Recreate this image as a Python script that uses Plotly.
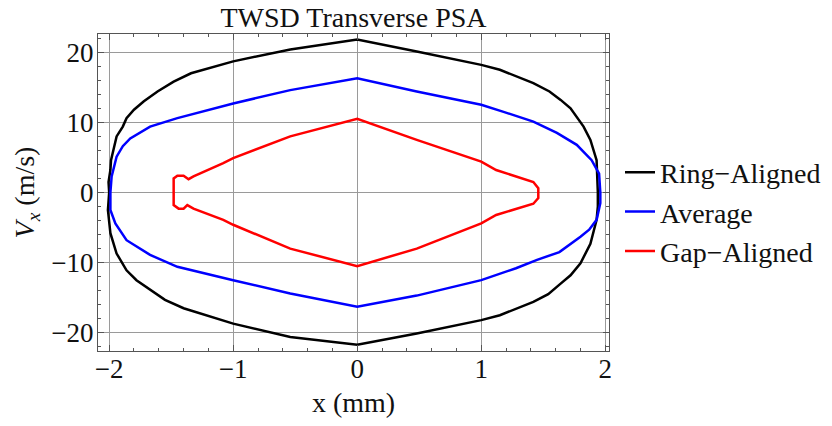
import plotly.graph_objects as go

# Ring-Aligned (black) closed contour
ring_x = [-2.00, -2.005, -1.99, -1.985, -1.96, -1.94, -1.89, -1.86, -1.80, -1.72, -1.61, -1.48, -1.34, -1.00, -0.54, 0.00,
          0.48, 1.00, 1.15, 1.42, 1.55, 1.64, 1.72, 1.77, 1.825, 1.88, 1.93, 1.94,
          1.94, 1.93, 1.88, 1.80, 1.72, 1.64, 1.54, 1.42, 1.15, 1.00, 0.48, 0.00,
          -0.54, -1.00, -1.40, -1.55, -1.67, -1.78, -1.86, -1.94, -1.99, -2.01, -2.00]
ring_y = [0.0, 1.5, 3.2, 4.6, 6.5, 8.0, 9.4, 10.6, 11.8, 13.0, 14.4, 15.8, 17.0, 18.7, 20.4, 21.8,
          20.1, 18.2, 17.5, 15.6, 14.4, 13.2, 12.0, 10.8, 9.4, 7.5, 4.6, 0.0,
          -2.0, -3.9, -7.3, -10.1, -11.8, -13.0, -14.5, -15.6, -17.5, -18.2, -20.1, -21.7,
          -20.6, -18.7, -16.5, -15.3, -13.9, -12.5, -11.1, -8.7, -5.8, -2.5, 0.0]

# Average (blue) closed contour
avg_x = [-1.99, -1.98, -1.94, -1.89, -1.83, -1.67, -1.45, -1.00, -0.54, 0.00,
         0.48, 1.00, 1.18, 1.42, 1.61, 1.77, 1.89, 1.95, 1.96,
         1.96, 1.93, 1.87, 1.80, 1.63, 1.45, 1.28, 1.00, 0.48, 0.00,
         -0.54, -1.00, -1.45, -1.67, -1.86, -1.95, -1.99, -1.99]
avg_y = [0.0, 2.3, 5.1, 6.6, 7.7, 9.4, 10.6, 12.7, 14.6, 16.3,
         14.4, 12.5, 11.5, 10.1, 8.5, 6.8, 4.6, 2.7, 0.0,
         -1.5, -3.9, -5.3, -6.3, -8.5, -9.6, -10.8, -12.5, -14.7, -16.3,
         -14.4, -12.5, -10.6, -8.9, -6.8, -4.4, -2.5, 0.0]

# Gap-Aligned (red) closed contour
gap_x = [-1.48, -1.48, -1.45, -1.40, -1.36, -1.32, -1.08, -1.00, -0.54, 0.00,
         0.48, 1.00, 1.12, 1.42, 1.46, 1.46,
         1.46, 1.42, 1.12, 1.00, 0.48, 0.00,
         -0.54, -1.00, -1.08, -1.32, -1.37, -1.40, -1.44, -1.48, -1.48]
gap_y = [0.0, 2.0, 2.4, 2.4, 1.9, 2.3, 4.2, 4.9, 8.0, 10.5,
         7.5, 4.4, 3.2, 1.5, 0.6, 0.0,
         -0.8, -1.6, -3.2, -4.4, -8.0, -10.5,
         -8.0, -4.6, -3.9, -2.3, -1.8, -2.3, -2.3, -1.8, 0.0]

series = [
    ("Ring\u2212Aligned", ring_x, ring_y, "#000000"),
    ("Average", avg_x, avg_y, "#0000FF"),
    ("Gap\u2212Aligned", gap_x, gap_y, "#FF0000"),
]

x_ticks = [-2, -1, 0, 1, 2]
y_ticks = [-20, -10, 0, 10, 20]

fig = go.Figure()
for i, (name, xs, ys, col) in enumerate(series):
    fig.add_trace(go.Scatter(x=xs, y=ys, mode="lines", name=name,
                             line=dict(color=col, width=2.5),
                             legendgroup=f"g{i}"))

font_family = "Liberation Serif"
txt = "#111111"
axis_common = dict(
    showline=True, linecolor="#555555", linewidth=1, mirror="ticks",
    ticks="inside", ticklen=6, tickcolor="#555555", tickwidth=1,
    showgrid=True, gridcolor="#9a9a9a", gridwidth=1, zeroline=False,
    tickfont=dict(family=font_family, size=27, color=txt),
)

fig.update_layout(
    width=832, height=426,
    margin=dict(l=98, r=223, t=34, b=75, autoexpand=False),
    paper_bgcolor="white", plot_bgcolor="white",
    title=dict(text="TWSD Transverse PSA", x=0.5, xref="paper", xanchor="center",
               y=1 - 17 / 426, yref="container", yanchor="middle",
               font=dict(family=font_family, size=28, color=txt)),
    xaxis=dict(range=[-2.09, 2.03], tickvals=x_ticks,
               ticklabelstandoff=-6,
               minor=dict(dtick=0.2, ticks="inside", ticklen=3, tickcolor="#555555", showgrid=False),
               title=dict(text="x (mm)", standoff=8,
                          font=dict(family=font_family, size=28, color=txt)),
               **axis_common),
    yaxis=dict(range=[-22.6, 22.6], tickvals=y_ticks,
               ticklabelstandoff=-2,
               minor=dict(dtick=2, ticks="inside", ticklen=3, tickcolor="#555555", showgrid=False),
               title=dict(text="<i>V</i><sub><i>x</i></sub> (m/s)", standoff=8,
                          font=dict(family=font_family, size=28, color=txt)),
               **axis_common),
    legend=dict(xref="container", x=620 / 832, xanchor="left",
                yref="container", y=1 - 212 / 426, yanchor="middle",
                font=dict(family=font_family, size=28, color=txt),
                tracegroupgap=0, itemwidth=30, bgcolor="rgba(0,0,0,0)"),
    showlegend=True,
)

fig.write_html("out.html")
